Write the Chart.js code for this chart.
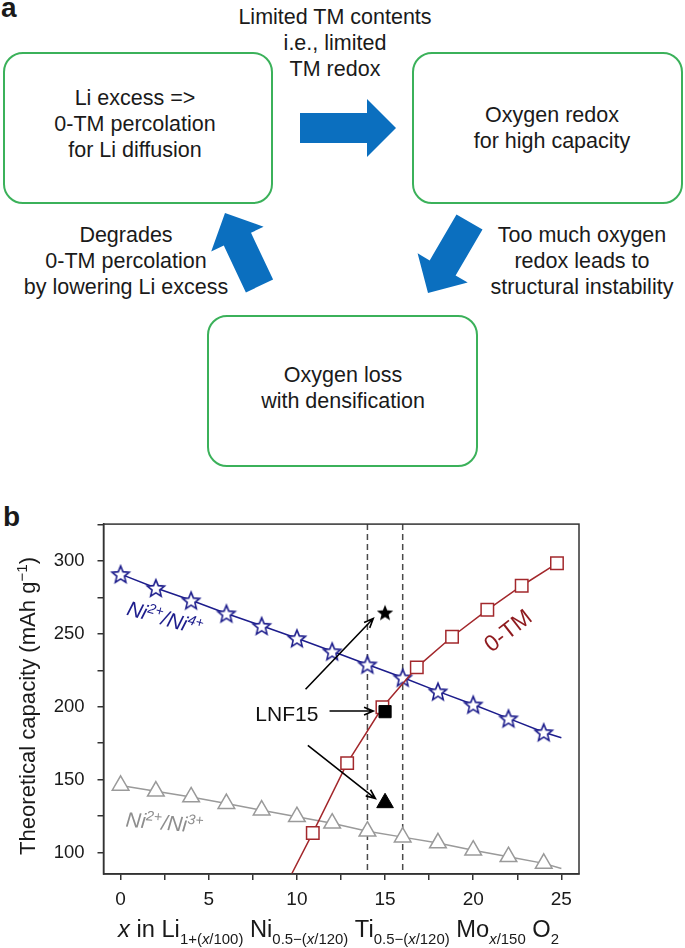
<!DOCTYPE html>
<html>
<head>
<meta charset="utf-8">
<script src="https://cdn.jsdelivr.net/npm/chart.js@4.4.1/dist/chart.umd.min.js"></script>
<style>
  html, body { margin: 0; padding: 0; background: #fff; }
  #page { position: relative; width: 685px; height: 948px; overflow: hidden;
          font-family: 'Liberation Sans', Arial, Helvetica, sans-serif; color: #1a1a1a; }
  .letter { position: absolute; font-weight: bold; font-size: 28px; line-height: 1; }
  .box { position: absolute; border: 2px solid #3bb15a; border-radius: 20px; box-sizing: border-box; }
  .txt { position: absolute; text-align: center; font-size: 21.5px; line-height: 26px;
         transform: translateX(-50%); white-space: nowrap; }
  #arrows { position: absolute; left: 0; top: 0; }
  #chart { position: absolute; left: 0; top: 500px; }
</style>
</head>
<body>
<div id="page">
  <!-- panel a -->
  <div class="letter" style="left:1px; top:-6px">a</div>
  <div class="box" style="left:3px; top:52px; width:270px; height:152px"></div>
  <div class="box" style="left:412px; top:52px; width:271px; height:152px"></div>
  <div class="box" style="left:207px; top:315px; width:271px; height:152px"></div>

  <div class="txt" style="left:335px; top:4px">Limited TM contents<br>i.e., limited<br>TM redox</div>
  <div class="txt" style="left:135px; top:85px">Li excess =&gt;<br>0-TM percolation<br>for Li diffusion</div>
  <div class="txt" style="left:552px; top:102px">Oxygen redox<br>for high capacity</div>
  <div class="txt" style="left:126px; top:222px">Degrades<br>0-TM percolation<br>by lowering Li excess</div>
  <div class="txt" style="left:582px; top:222px">Too much oxygen<br>redox leads to<br>structural instability</div>
  <div class="txt" style="left:343px; top:362px">Oxygen loss<br>with densification</div>

  <svg id="arrows" width="685" height="500"></svg>

  <!-- panel b -->
  <div class="letter" style="left:3px; top:503px">b</div>
  <canvas id="chart" width="685" height="448"></canvas>
</div>

<script>
// ---- panel b data ----
const xEven = [0, 2, 4, 6, 8, 10, 12, 14, 16, 18, 20, 22, 24];
const ni2ni4 = [291, 281.5, 273, 264, 255.5, 247, 238, 229, 220, 210.5, 201.5, 192, 182.5];
const ni2ni3 = [146, 142, 138, 133.5, 129, 124.5, 120, 114.5, 110.5, 106.5, 101.5, 97, 92.5];
const fitEndX = 25;          // both fit lines run on to x = 25
const ni2ni4End = 178.7;
const ni2ni3End = 89;
const zeroTmX = [10.9, 12.85, 14.85, 16.8, 18.8, 20.8, 22.75, 24.75];
const zeroTm = [113.4, 161.3, 199.6, 227, 248, 266.5, 283, 298.4];
const zeroTmEntry = [9.7, 85.2]; // where the 0-TM curve comes in through the bottom
const lnf15X = 15;
const lnf15 = [264.6, 196.6, 134];  // star, square, triangle
const windowX = [14, 16];           // dashed lines
const xTickMarks = [0, 2.5, 5, 7.5, 10, 12.5, 15, 17.5, 20, 22.5, 25];
const xTickLabels = [0, 5, 10, 15, 20, 25];
const yTickMarks = [100, 125, 150, 175, 200, 225, 250, 275, 300, 325];
const yTickLabels = [100, 150, 200, 250, 300];

const NAVY = '#1d1d8c', RED = '#a3282c', GRAY = '#9a9a9a', AXIS = '#333';
const FONT = "'Liberation Sans', Arial, Helvetica, sans-serif";

// pointers next to LNF15, in data units
const pointers = [
  { from: [10.49, 212], to: [14.33, 260.5] },
  { from: [11.85, 197], to: [14.33, 197] },
  { from: [10.62, 173.4], to: [14.45, 137] }
];

// in-plot labels; parts are [text, 'sup' | '']
const plotLabels = [
  { parts: [['Ni', ''], ['2+', 'sup'], ['/Ni', ''], ['4+', 'sup']], at: [2.52, 261], rot: 16, color: NAVY, italic: true, size: 21 },
  { parts: [['Ni', ''], ['2+', 'sup'], ['/Ni', ''], ['3+', 'sup']], at: [2.49, 120.7], rot: 5, color: '#8e8e8e', italic: true, size: 21 },
  { parts: [['0-TM', '']], at: [21.94, 252.6], rot: -38, color: '#8e1a1e', italic: false, size: 23 },
  { parts: [['LNF15', '']], at: [9.43, 195.3], rot: 0, color: '#111', italic: false, size: 21 }
];

// ---- panel a arrows ----
function arrowPoly(tail, tip, shaftW, headW, headL) {
  const dx = tip[0] - tail[0], dy = tip[1] - tail[1];
  const len = Math.hypot(dx, dy), ux = dx / len, uy = dy / len, px = -uy, py = ux;
  const bx = tip[0] - ux * headL, by = tip[1] - uy * headL;
  const pts = [
    [tail[0] + px * shaftW / 2, tail[1] + py * shaftW / 2],
    [bx + px * shaftW / 2, by + py * shaftW / 2],
    [bx + px * headW / 2, by + py * headW / 2],
    tip,
    [bx - px * headW / 2, by - py * headW / 2],
    [bx - px * shaftW / 2, by - py * shaftW / 2],
    [tail[0] - px * shaftW / 2, tail[1] - py * shaftW / 2]
  ];
  return pts.map(p => p[0].toFixed(1) + ',' + p[1].toFixed(1)).join(' ');
}
const bigArrows = [
  [[300, 128], [396, 128]],
  [[259.5, 286], [225, 213]],
  [[469.5, 222], [428, 293]]
];
document.getElementById('arrows').innerHTML = bigArrows
  .map(a => `<polygon points="${arrowPoly(a[0], a[1], 30, 58, 29)}" fill="#0b6fbf"/>`).join('');

// ---- marker images ----
function starImage(outer, inner, fill, stroke, lw) {
  const size = Math.ceil(outer * 2 + lw * 2 + 2);
  const c = document.createElement('canvas');
  c.width = c.height = size;
  const g = c.getContext('2d');
  const cx = size / 2, cy = size / 2 + outer * 0.1;
  g.beginPath();
  for (let k = 0; k < 10; k++) {
    const r = k % 2 ? inner : outer;
    const a = -Math.PI / 2 + k * Math.PI / 5;
    g.lineTo(cx + r * Math.cos(a), cy + r * Math.sin(a));
  }
  g.closePath();
  g.fillStyle = fill;
  g.fill();
  if (stroke) { g.lineWidth = lw; g.strokeStyle = stroke; g.stroke(); }
  return c;
}
const openStar = starImage(9, 4, '#fff', NAVY, 1.6);
const blackStar = starImage(8.6, 3.7, '#000', null, 0);

// ---- rich text (super/subscripts) ----
function partFont(size, italic) { return (italic ? 'italic ' : '') + size + 'px ' + FONT; }
function richWidth(ctx, parts, size, small, italic) {
  let w = 0;
  parts.forEach(p => {
    ctx.font = partFont(p[1] ? small : size, italic || p[2]);
    w += ctx.measureText(p[0]).width;
  });
  return w;
}
function drawRich(ctx, parts, x, y, size, small, italic, stretch) {
  ctx.save();
  ctx.translate(x, y);
  ctx.scale(stretch || 1, 1);
  let cx = 0;
  parts.forEach(p => {
    ctx.font = partFont(p[1] ? small : size, italic || p[2]);
    const dy = p[1] === 'sup' ? -size * 0.38 : p[1] === 'sub' ? size * 0.3 : 0;
    ctx.fillText(p[0], cx, dy);
    cx += ctx.measureText(p[0]).width;
  });
  ctx.restore();
}

const xTitle = [
  ['x', '', true], [' in Li', ''], ['1+(', 'sub'], ['x', 'sub', true], ['/100)', 'sub'],
  [' Ni', ''], ['0.5\u2212(', 'sub'], ['x', 'sub', true], ['/120)', 'sub'],
  [' Ti', ''], ['0.5\u2212(', 'sub'], ['x', 'sub', true], ['/120)', 'sub'],
  [' Mo', ''], ['x', 'sub', true], ['/150', 'sub'], [' O', ''], ['2', 'sub']
];
const yTitle = [['Theoretical capacity (mAh g', ''], ['\u22121', 'sup'], [')', '']];

const decorations = {
  id: 'decorations',
  beforeDatasetsDraw(chart) {
    const { ctx, chartArea: a, scales: { x } } = chart;
    ctx.save();
    ctx.strokeStyle = '#4a4a4a';
    ctx.lineWidth = 1.5;
    ctx.setLineDash([6, 4]);
    windowX.forEach(v => {
      const px = x.getPixelForValue(v);
      ctx.beginPath(); ctx.moveTo(px, a.top); ctx.lineTo(px, a.bottom); ctx.stroke();
    });
    ctx.restore();
  },
  afterDraw(chart) {
    const { ctx, chartArea: a, scales: { x, y } } = chart;
    ctx.save();
    // frame
    ctx.strokeStyle = AXIS;
    ctx.lineWidth = 1.5;
    ctx.strokeRect(a.left, a.top, a.right - a.left, a.bottom - a.top);

    // pointer arrows
    ctx.strokeStyle = '#000';
    ctx.lineWidth = 1.6;
    pointers.forEach(p => {
      const x0 = x.getPixelForValue(p.from[0]), y0 = y.getPixelForValue(p.from[1]);
      const x1 = x.getPixelForValue(p.to[0]), y1 = y.getPixelForValue(p.to[1]);
      const ang = Math.atan2(y1 - y0, x1 - x0);
      ctx.beginPath();
      ctx.moveTo(x0, y0); ctx.lineTo(x1, y1);
      ctx.moveTo(x1 - 10 * Math.cos(ang - 0.4), y1 - 10 * Math.sin(ang - 0.4));
      ctx.lineTo(x1, y1);
      ctx.lineTo(x1 - 10 * Math.cos(ang + 0.4), y1 - 10 * Math.sin(ang + 0.4));
      ctx.stroke();
    });

    // labels inside the plot
    ctx.textBaseline = 'alphabetic';
    ctx.textAlign = 'left';
    plotLabels.forEach(l => {
      const small = Math.round(l.size * 0.66);
      const w = richWidth(ctx, l.parts, l.size, small, l.italic);
      ctx.save();
      ctx.translate(x.getPixelForValue(l.at[0]), y.getPixelForValue(l.at[1]));
      ctx.rotate(l.rot * Math.PI / 180);
      ctx.fillStyle = l.color;
      drawRich(ctx, l.parts, -w / 2, l.size * 0.36, l.size, small, l.italic);
      ctx.restore();
    });

    // axis titles
    ctx.fillStyle = '#1a1a1a';
    const xs = 23, xsm = 14.5;
    const xw = richWidth(ctx, xTitle, xs, xsm, false);
    drawRich(ctx, xTitle, 118, 437, xs, xsm, false, 441 / xw);

    const ys = 22, ysm = 15;
    const yw = richWidth(ctx, yTitle, ys, ysm, false);
    const ky = 298 / yw;
    ctx.translate(35, 206);
    ctx.rotate(-Math.PI / 2);
    drawRich(ctx, yTitle, -yw * ky / 2, 0, ys, ysm, false, ky);
    ctx.restore();
  }
};

new Chart(document.getElementById('chart'), {
  type: 'scatter',
  data: {
    datasets: [
      {
        data: [lnf15X, lnf15X, lnf15X].map((v, i) => ({ x: v, y: lnf15[i] })),
        showLine: false,
        pointStyle: [blackStar, 'rect', 'triangle'],
        pointRadius: [8, 8.6, 9.6],
        pointBackgroundColor: '#000',
        pointBorderColor: '#000',
        pointBorderWidth: 1
      },
      {
        data: [{ x: zeroTmEntry[0], y: zeroTmEntry[1] }].concat(zeroTmX.map((v, i) => ({ x: v, y: zeroTm[i] }))),
        showLine: true,
        borderColor: RED,
        borderWidth: 1.5,
        pointStyle: 'rect',
        pointRadius: c => c.dataIndex === 0 ? 0 : 8.8,
        pointBackgroundColor: '#fff',
        pointBorderColor: RED,
        pointBorderWidth: 1.5
      },
      {
        data: xEven.map((v, i) => ({ x: v, y: ni2ni4[i] })).concat([{ x: fitEndX, y: ni2ni4End }]),
        showLine: true,
        borderColor: NAVY,
        borderWidth: 1.5,
        pointStyle: openStar,
        pointRadius: c => c.dataIndex < xEven.length ? 8 : 0
      },
      {
        data: xEven.map((v, i) => ({ x: v, y: ni2ni3[i] })).concat([{ x: fitEndX, y: ni2ni3End }]),
        showLine: true,
        borderColor: GRAY,
        borderWidth: 1.5,
        pointStyle: 'triangle',
        pointRadius: c => c.dataIndex < xEven.length ? 9.6 : 0,
        pointBackgroundColor: '#fff',
        pointBorderColor: GRAY,
        pointBorderWidth: 1.5
      }
    ]
  },
  options: {
    responsive: false,
    animation: false,
    devicePixelRatio: 1,
    layout: { padding: { left: 0, top: 23, right: 106, bottom: 0 } },
    plugins: { legend: { display: false }, tooltip: { enabled: false } },
    scales: {
      x: {
        type: 'linear', min: -0.97, max: 26,
        afterBuildTicks: s => { s.ticks = xTickMarks.map(v => ({ value: v })); },
        afterFit: s => { s.height = 74; },
        ticks: {
          autoSkip: false, maxRotation: 0, padding: 8, color: '#1a1a1a', font: { family: FONT, size: 19 },
          callback: v => xTickLabels.includes(v) ? String(v) : ''
        },
        grid: { drawOnChartArea: false, drawTicks: true, tickLength: 6, color: AXIS, lineWidth: 1.5 },
        border: { display: true, color: AXIS, width: 1.5 }
      },
      y: {
        type: 'linear', min: 85.2, max: 325.3,
        afterBuildTicks: s => { s.ticks = yTickMarks.map(v => ({ value: v })); },
        afterFit: s => { s.width = 103.5; },
        ticks: {
          autoSkip: false, padding: 13, color: '#1a1a1a', font: { family: FONT, size: 18.5 },
          callback: v => yTickLabels.includes(v) ? String(v) : ''
        },
        grid: { drawOnChartArea: false, drawTicks: true, tickLength: 6, color: AXIS, lineWidth: 1.5 },
        border: { display: true, color: AXIS, width: 1.5 }
      }
    }
  },
  plugins: [decorations]
});
</script>
</body>
</html>
